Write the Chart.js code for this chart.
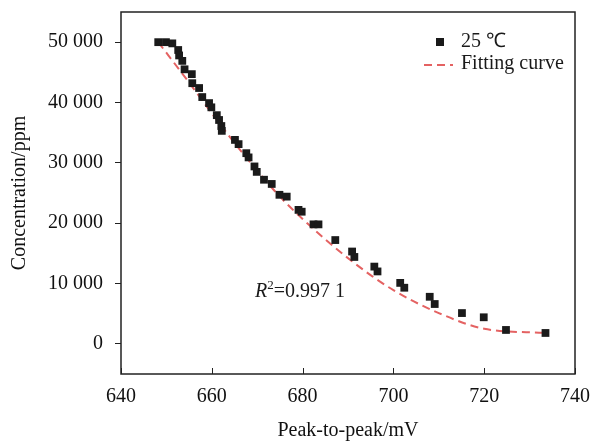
<!DOCTYPE html>
<html>
<head>
<meta charset="utf-8">
<script src="https://cdn.jsdelivr.net/npm/chart.js@4"></script>
<style>
  html, body { margin: 0; padding: 0; background: #fff; }
  #wrap { width: 592px; height: 441px; }
</style>
</head>
<body>
<div id="wrap"><canvas id="fitChart" width="592" height="441"></canvas></div>
<script>
// measured points (peak-to-peak voltage vs concentration)
const peakToPeak = [648.2, 649.9, 651.3, 652.6, 652.8, 653.5, 654.0, 655.6, 655.7, 657.2, 657.9, 659.4, 659.9,
  661.1, 661.6, 662.1, 662.2, 665.1, 665.9, 667.6, 668.1, 669.4, 669.9, 671.5, 673.2, 674.9, 676.5,
  679.1, 679.8, 682.4, 683.5, 687.2, 690.9, 691.4, 695.8, 696.5, 701.5, 702.4, 708.0, 709.1, 715.1,
  719.9, 724.8, 733.5];
const concentration = [50000, 50000, 49800, 48700, 47800, 46900, 45500, 44700, 43200, 42400, 40900, 39900, 39200,
  37900, 37100, 36100, 35300, 33800, 33100, 31600, 30900, 29400, 28500, 27200, 26500, 24700, 24400,
  22200, 21900, 19800, 19800, 17200, 15300, 14400, 12800, 12000, 10100, 9300, 7800, 6600, 5100,
  4400, 2300, 1800];

// fitting curve
const fitX = [648.2, 655, 660, 665, 670, 675, 680, 690, 700, 710, 720, 733.5];
const fitY = [50000, 43300, 38200, 33300, 28700, 24400, 20700, 14200, 8900, 5100, 2500, 1800];

const yTicks = [0, 10000, 20000, 30000, 40000, 50000];
const seriesLabels = ['25 \u2103', 'Fitting curve'];
const r2Text = '=0.997 1';

const serif = '"Liberation Serif", "Times New Roman", serif';
const fitColor = 'rgb(228, 98, 98)';

function spaced(v) {
  return String(v).replace(/\B(?=(\d{3})+(?!\d))/g, ' ');
}

const extras = {
  id: 'extras',
  afterDraw(chart) {
    const ctx = chart.ctx;
    const a = chart.chartArea;
    const xs = chart.scales.x, ys = chart.scales.y;
    ctx.save();
    // frame
    ctx.strokeStyle = '#222';
    ctx.lineWidth = 1.5;
    ctx.strokeRect(a.left, a.top, a.right - a.left, a.bottom - a.top);
    // inward x ticks
    ctx.lineWidth = 1;
    xs.ticks.forEach(t => {
      const px = Math.round(xs.getPixelForValue(t.value)) + 0.5;
      ctx.beginPath();
      ctx.moveTo(px, a.bottom);
      ctx.lineTo(px, a.bottom - 6);
      ctx.stroke();
    });
    // legend
    const lx = a.right - 135;
    ctx.fillStyle = '#1a1a1a';
    ctx.fillRect(lx - 4, a.top + 26, 8, 8);
    ctx.font = '20px ' + serif;
    ctx.textBaseline = 'middle';
    ctx.fillText(seriesLabels[0], a.right - 114, a.top + 30);
    ctx.strokeStyle = fitColor;
    ctx.lineWidth = 2;
    ctx.setLineDash([8, 5]);
    ctx.beginPath();
    ctx.moveTo(a.right - 151, a.top + 53);
    ctx.lineTo(a.right - 122, a.top + 53);
    ctx.stroke();
    ctx.setLineDash([]);
    ctx.fillText(seriesLabels[1], a.right - 114, a.top + 52);
    // R^2 label
    let tx = xs.getPixelForValue(669.5);
    const ty = ys.getPixelForValue(9000);
    ctx.textBaseline = 'alphabetic';
    ctx.font = 'italic 20px ' + serif;
    ctx.fillText('R', tx, ty + 7);
    tx += ctx.measureText('R').width;
    ctx.font = '13px ' + serif;
    ctx.fillText('2', tx, ty - 1);
    tx += ctx.measureText('2').width;
    ctx.font = '20px ' + serif;
    ctx.fillText(r2Text, tx, ty + 7);
    ctx.restore();
  }
};

new Chart(document.getElementById('fitChart'), {
  type: 'scatter',
  data: {
    datasets: [{
      label: seriesLabels[0],
      data: peakToPeak.map((x, i) => ({ x: x, y: concentration[i] })),
      pointStyle: 'rect',
      pointRadius: 5.5,
      pointBackgroundColor: '#1a1a1a',
      pointBorderWidth: 0
    }, {
      type: 'line',
      label: seriesLabels[1],
      data: fitX.map((x, i) => ({ x: x, y: fitY[i] })),
      borderColor: fitColor,
      borderWidth: 2,
      borderDash: [8, 5],
      pointRadius: 0,
      fill: false,
      cubicInterpolationMode: 'monotone'
    }]
  },
  options: {
    responsive: false,
    animation: false,
    layout: { padding: { top: 12, right: 17, left: 0, bottom: 0 } },
    plugins: { legend: { display: false }, tooltip: { enabled: false } },
    scales: {
      x: {
        type: 'linear',
        min: 640, max: 740,
        afterFit: s => { s.height = 67; s.paddingLeft = 0; s.paddingRight = 0; },
        border: { display: false },
        grid: { drawOnChartArea: false, drawTicks: false },
        ticks: { stepSize: 20, padding: 11, color: '#111', font: { family: serif, size: 20 } },
        title: {
          display: true, text: 'Peak-to-peak/mV', color: '#111',
          font: { family: serif, size: 20, lineHeight: 1 }, padding: { top: 0, bottom: 0 }
        }
      },
      y: {
        type: 'linear',
        min: -5000, max: 55000,
        afterFit: s => { s.width = 121; s.paddingTop = 0; s.paddingBottom = 0; },
        afterBuildTicks: s => { s.ticks = yTicks.map(v => ({ value: v })); },
        border: { display: false },
        grid: { drawOnChartArea: false, drawTicks: true, tickLength: 6, tickColor: '#222' },
        ticks: { padding: 12, color: '#111', font: { family: serif, size: 20 }, callback: v => spaced(v) },
        title: {
          display: true, text: 'Concentration/ppm', color: '#111',
          font: { family: serif, size: 20, lineHeight: 1 }, padding: { top: 10, bottom: 0 }
        }
      }
    }
  },
  plugins: [extras]
});
</script>
</body>
</html>
